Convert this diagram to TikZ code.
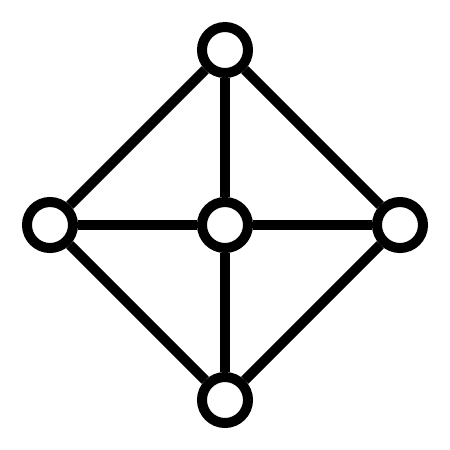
\documentclass[tikz,border=0pt]{standalone}

\begin{document}
\begin{tikzpicture}
  [x=0.01cm, y=-0.01cm, line width=0.1cm,
   every node/.style={draw, fill=white, circle, inner sep=0pt, minimum size=0.46cm}]
  \useasboundingbox (0,0) rectangle (450,450);
  \node (top) at (225,50) {};
  \node (left) at (50,225) {};
  \node (mid) at (225,225) {};
  \node (right) at (400,225) {};
  \node (bottom) at (225,400) {};
  \draw (top) -- (left) -- (bottom) -- (right) -- (top);
  \draw (top) -- (mid) -- (bottom);
  \draw (left) -- (mid) -- (right);
\end{tikzpicture}
\end{document}
